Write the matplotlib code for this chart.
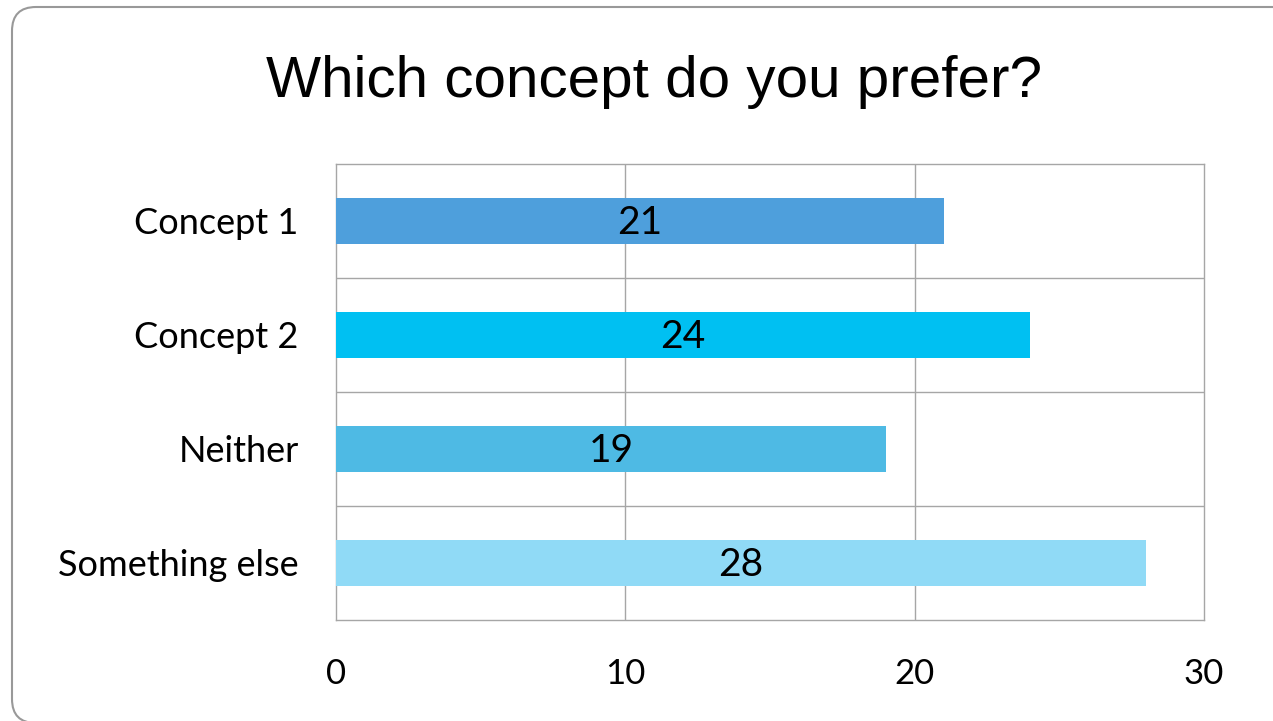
import matplotlib.pyplot as plt
from matplotlib.patches import FancyBboxPatch

# data
categories = ['Concept 1', 'Concept 2', 'Neither', 'Something else']
values = [21, 24, 19, 28]
colors = ['#4E9FDC', '#00C0F2', '#4EBAE4', '#90DAF6']
x_ticks = [0, 10, 20, 30]

W, H = 1273, 721
fig = plt.figure(figsize=(W / 100, H / 100), dpi=100)

# rounded frame around the chart
frame = FancyBboxPatch((12 / W, -2 / H), 1.2, (H - 7 + 2) / H,
                       boxstyle='round,pad=0,rounding_size=%f' % (24 / W),
                       mutation_aspect=W / H,
                       transform=fig.transFigure, facecolor='none',
                       edgecolor='#999999', linewidth=1.5, zorder=0)
fig.patches.append(frame)

ax = fig.add_axes([336 / W, 1 - 620 / H, (1204 - 336) / W, (620 - 164) / H])
ax.set_facecolor('none')

ypos = list(range(len(categories)))
ax.barh(ypos, values, height=0.4, color=colors, zorder=3)
for y, v in zip(ypos, values):
    ax.text(v / 2, y + 0.02, str(v), ha='center', va='center', fontsize=28,
            family='Lato', color='black', zorder=4)

ax.set_xlim(0, 30)
ax.set_ylim(len(categories) - 0.5, -0.5)
ax.set_xticks(x_ticks)
ax.set_yticks(ypos)
ax.set_yticklabels(categories, fontsize=26, family='Lato')
ax.set_xticklabels([str(t) for t in x_ticks], fontsize=25, family='Lato')
ax.tick_params(length=0)
ax.tick_params(axis='y', pad=27)
ax.tick_params(axis='x', pad=27)

# grid: vertical at x ticks, horizontal between categories
for t in x_ticks[1:-1]:
    ax.axvline(t, color='#A6A6A6', linewidth=1, zorder=1)
for b in [0.5, 1.5, 2.5]:
    ax.axhline(b, color='#A6A6A6', linewidth=1, zorder=1)
for s in ax.spines.values():
    s.set_color('#A6A6A6')
    s.set_linewidth(1)

fig.text(654 / W, 1 - 82 / H, 'Which concept do you prefer?', ha='center',
         va='center', fontsize=42, family='Liberation Sans')

fig.savefig('out.png', dpi=100)
